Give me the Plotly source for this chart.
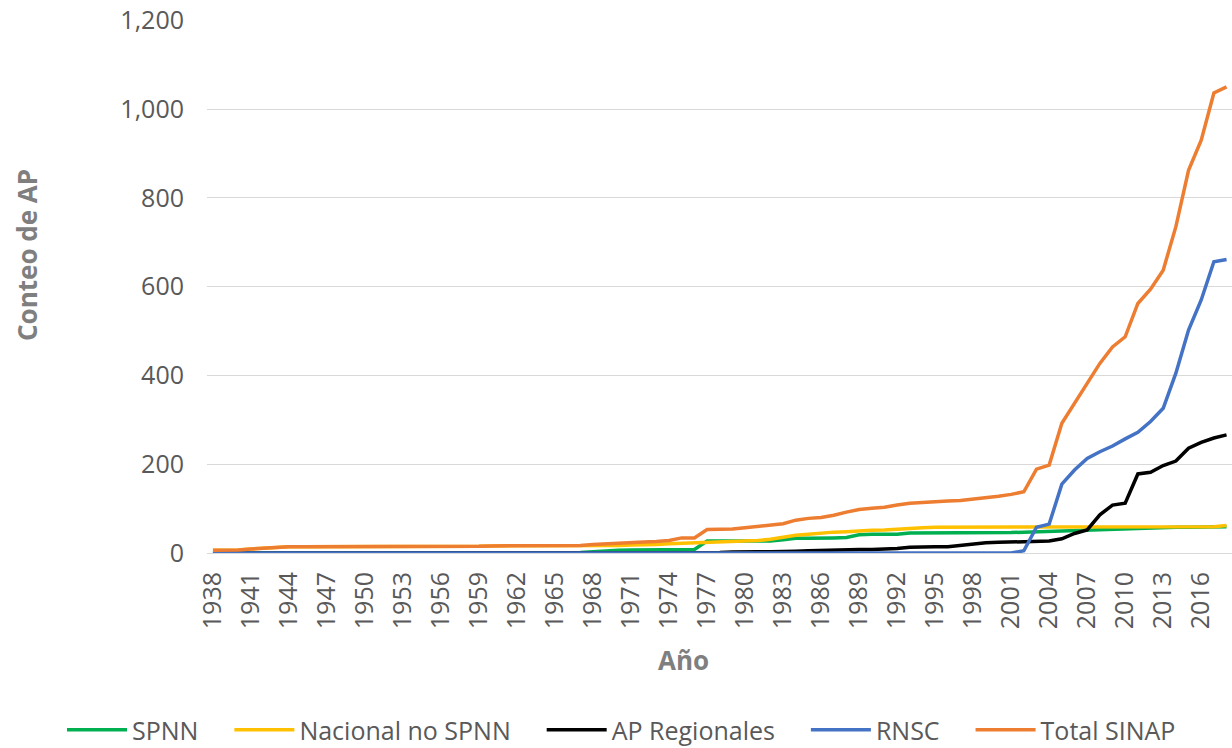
import plotly.graph_objects as go

years = list(range(1938, 2019))

spnn = ([0] * 29 +
        [1, 3, 5, 6, 7, 7, 7, 7, 7, 8,
         27, 27, 27, 27, 27, 27, 30, 33, 33, 33,
         34, 35, 41, 42, 42, 42, 45, 45, 45, 45,
         45, 45, 45, 46, 46, 47, 48, 49, 50, 51,
         52, 53, 54, 55, 56, 57, 58, 58, 58, 58,
         59, 59])

nacional_no_spnn = ([6, 6, 7, 9, 11, 13] + [14] * 15 +
                    [15, 16, 16, 17, 17, 17, 17, 17, 17, 17,
                     17, 17, 18, 18, 19, 21, 22, 22, 24, 24,
                     25, 26, 28, 31, 35, 40, 42, 45, 47, 48,
                     50, 51, 52, 54, 56, 57, 58, 58, 58, 58,
                     58, 58, 58, 58, 58, 58, 58, 58, 58, 58,
                     58, 58, 58, 58, 58, 58, 58, 58, 59, 62])

ap_regionales = ([0] * 40 +
                 [1, 2, 3, 3, 3, 3, 4, 5, 6, 7,
                  8, 8, 8, 9, 10, 13, 14, 14, 14, 17,
                  20, 23, 24, 25, 25, 26, 27, 32, 44, 52,
                  86, 108, 112, 178, 182, 197, 207, 236, 249, 259,
                  266])

rnsc = ([0] * 64 +
        [5, 58, 65, 155, 187, 213, 228, 241, 257, 272,
         296, 326, 405, 502, 570, 656, 661])

total_sinap = ([6, 6, 7, 9, 11, 13] + [14] * 15 +
               [15, 16, 16, 17, 17, 17, 17, 17, 17, 19,
                21, 22, 24, 25, 26, 28, 34, 34, 53, 53,
                54, 57, 60, 63, 66, 74, 78, 80, 85, 92,
                98, 101, 103, 108, 112, 114, 116, 117, 118, 121,
                124, 128, 132, 138, 189, 198, 292, 338, 382, 427,
                464, 487, 562, 594, 637, 735, 862, 930, 1036, 1050])

series = [
    ("SPNN", spnn, "#00B050"),
    ("Nacional no SPNN", nacional_no_spnn, "#FFC000"),
    ("AP Regionales", ap_regionales, "#000000"),
    ("RNSC", rnsc, "#4472C4"),
    ("Total SINAP", total_sinap, "#ED7D31"),
]

pad = "\u00a0" * 4  # extra room between legend entries

fig = go.Figure()
for i, (name, values, color) in enumerate(series):
    label = name if i == len(series) - 1 else name + pad
    fig.add_trace(go.Scatter(x=years, y=values, mode="lines", name=label,
                             line=dict(color=color, width=3.5)))

font = "Open Sans, DejaVu Sans, sans-serif"

W, H = 1232, 748
L, T, B = 207, 20, 195
plot_w = W - L
plot_h = H - T - B


def px(x, y):
    # pixel -> paper coordinates
    return (x - L) / plot_w, (H - B - y) / plot_h


lx, ly = px(62, 730)
ax_x, ax_y = px(683, 660)
ay_x, ay_y = px(27, 255)

fig.update_layout(
    width=W, height=H,
    margin=dict(l=L, r=0, t=T, b=B, autoexpand=False),
    plot_bgcolor="white", paper_bgcolor="white",
    font=dict(family=font, color="#595959", size=25),
    showlegend=True,
    legend=dict(orientation="h", x=lx, xanchor="left", y=ly, yanchor="middle",
                font=dict(size=25, color="#595959"), itemwidth=60),
    annotations=[
        dict(text="<b>Año</b>", x=ax_x, y=ax_y, xref="paper", yref="paper",
             xanchor="center", yanchor="middle", showarrow=False,
             font=dict(size=26, color="#7f7f7f")),
        dict(text="<b>Conteo de AP</b>", x=ay_x, y=ay_y, xref="paper", yref="paper",
             xanchor="center", yanchor="middle", textangle=-90, showarrow=False,
             font=dict(size=26, color="#7f7f7f")),
    ],
)

fig.update_xaxes(range=[1937.53, 2018.43], tick0=1938, dtick=3, tickangle=-90,
                 showgrid=False, showline=True, linecolor="#d9d9d9", linewidth=1,
                 zeroline=False, ticks="", ticklabelstandoff=8, automargin=False,
                 tickfont=dict(size=25, color="#595959"))
fig.update_yaxes(range=[0, 1200.5], dtick=200, tickformat=",d",
                 showgrid=True, gridcolor="#d9d9d9", gridwidth=1,
                 zeroline=False, showline=False, ticks="", ticklabelstandoff=22,
                 ticklabeloverflow="allow", automargin=False,
                 tickfont=dict(size=25, color="#595959"))

# drop the default page margin so the figure fills the window exactly
fig.write_html("out.html", config={"displayModeBar": False},
               post_script="document.body.style.margin = '0';")
